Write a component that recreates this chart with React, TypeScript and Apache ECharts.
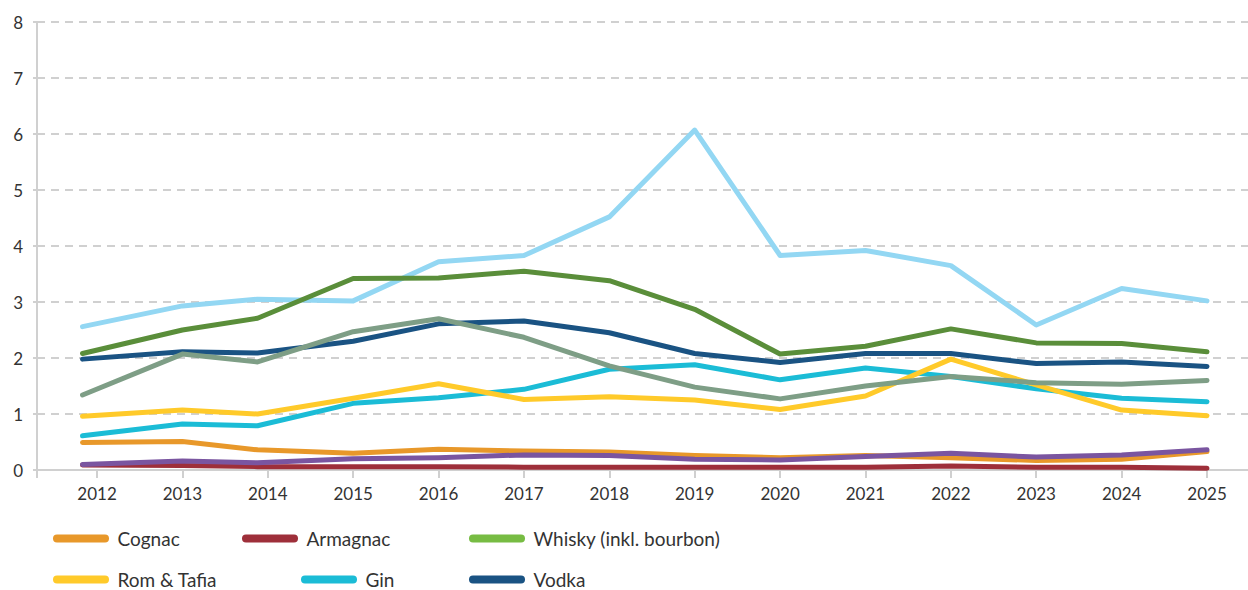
import React, { useEffect, useRef } from "react";
import * as echarts from "echarts";

const periods = [2011.83, 2013, 2013.88, 2015, 2016, 2017, 2018, 2019, 2020, 2021, 2022, 2023, 2024, 2025];
const yearTicks = [2012, 2013, 2014, 2015, 2016, 2017, 2018, 2019, 2020, 2021, 2022, 2023, 2024, 2025];

const cognac = [0.49, 0.51, 0.36, 0.3, 0.37, 0.34, 0.32, 0.26, 0.22, 0.26, 0.22, 0.17, 0.19, 0.33];
const armagnac = [0.09, 0.08, 0.06, 0.06, 0.06, 0.05, 0.05, 0.05, 0.05, 0.05, 0.07, 0.05, 0.05, 0.03];
const whisky: number[] = [];
const romTafia = [0.96, 1.07, 1.0, 1.28, 1.54, 1.26, 1.31, 1.25, 1.08, 1.32, 1.98, 1.52, 1.07, 0.97];
const gin = [0.61, 0.82, 0.79, 1.19, 1.29, 1.44, 1.8, 1.88, 1.61, 1.82, 1.67, 1.45, 1.28, 1.22];
const vodka = [1.98, 2.11, 2.09, 2.3, 2.61, 2.66, 2.45, 2.08, 1.92, 2.08, 2.08, 1.9, 1.93, 1.85];
const seriesLightBlue = [2.56, 2.93, 3.05, 3.02, 3.72, 3.83, 4.52, 6.07, 3.83, 3.92, 3.65, 2.59, 3.24, 3.02];
const seriesDarkGreen = [2.08, 2.5, 2.71, 3.42, 3.43, 3.55, 3.38, 2.87, 2.07, 2.21, 2.52, 2.27, 2.26, 2.11];
const seriesGreyGreen = [1.34, 2.07, 1.93, 2.47, 2.7, 2.37, 1.86, 1.48, 1.27, 1.5, 1.67, 1.56, 1.53, 1.6];
const seriesPurple = [0.1, 0.16, 0.13, 0.2, 0.22, 0.27, 0.26, 0.19, 0.18, 0.24, 0.3, 0.23, 0.27, 0.36];

const FONT = "Lato, 'Noto Sans', sans-serif";
const X_MIN = 2011.297;
const X_MAX = 2025.48;

const pill = "path://M4,0L52,0A4,4,0,0,1,52,8L4,8A4,4,0,0,1,4,0Z";

function pairs(vals: number[]) {
  return vals.map((v, i) => [periods[i], v]);
}

export default function App() {
  const ref = useRef<HTMLDivElement>(null);
  useEffect(() => {
    if (!ref.current) return;
    const chart = echarts.init(ref.current, undefined, { renderer: "svg" });

    const mk = (name: string, vals: number[], color: string) => ({
      name,
      type: "line",
      data: pairs(vals),
      showSymbol: false,
      symbol: "none",
      lineStyle: { width: 5, color, cap: "round", join: "round" },
      itemStyle: { color },
      emphasis: { disabled: true },
    });

    const legendItem = (name: string, left: number, top: number) => ({
      data: [name],
      left,
      top,
      icon: pill,
      itemWidth: 57,
      itemHeight: 8,
      selectedMode: false,
      textStyle: { fontFamily: FONT, fontSize: 19, color: "#333", padding: [0, 0, 0, 3] },
    });

    chart.setOption({
      animation: false,
      grid: { left: 37, right: 0, top: 22, bottom: 120, containLabel: false },
      xAxis: {
        type: "value",
        min: X_MIN,
        max: X_MAX,
        splitLine: { show: false },
        axisLine: { show: true, lineStyle: { color: "#d0d0d0", width: 2 } },
        axisTick: {
          show: true,
          length: 8,
          lineStyle: { color: "#d0d0d0", width: 2 },
          customValues: [X_MIN, ...yearTicks],
        },
        axisLabel: {
          customValues: yearTicks,
          formatter: (v: number) => String(Math.round(v)),
          fontFamily: FONT,
          fontSize: 17,
          color: "#333",
          margin: 15,
        },
      },
      yAxis: {
        type: "value",
        min: 0,
        max: 8,
        interval: 1,
        axisLine: { show: true, lineStyle: { color: "#d0d0d0", width: 2 } },
        axisTick: { show: true, length: 4, lineStyle: { color: "#d0d0d0", width: 2 } },
        splitLine: { show: true, lineStyle: { color: "#d0d0d0", width: 2, type: [8, 6] } },
        axisLabel: { fontFamily: FONT, fontSize: 17, color: "#333", margin: 14 },
      },
      legend: [
        legendItem("Cognac", 48, 524),
        legendItem("Armagnac", 237, 524),
        legendItem("Whisky (inkl. bourbon)", 464, 524),
        legendItem("Rom & Tafia", 48, 565),
        legendItem("Gin", 296, 565),
        legendItem("Vodka", 464, 565),
      ],
      series: [
        mk("Armagnac", armagnac, "#9E2F3A"),
        mk("Cognac", cognac, "#E8982A"),
        mk("Øvrig 4", seriesPurple, "#7A55A0"),
        mk("Whisky (inkl. bourbon)", whisky, "#77BC43"),
        mk("Gin", gin, "#1BBCD6"),
        mk("Rom & Tafia", romTafia, "#FFCA2A"),
        mk("Vodka", vodka, "#1A5383"),
        mk("Øvrig 3", seriesGreyGreen, "#7E9E86"),
        mk("Øvrig 1", seriesLightBlue, "#93D7F3"),
        mk("Øvrig 2", seriesDarkGreen, "#5A8E3A"),
      ],
    });
    return () => chart.dispose();
  }, []);

  return (
    <div
      ref={ref}
      style={{ position: "fixed", left: 0, top: 0, width: 1248, height: 590, background: "#fff" }}
    />
  );
}
